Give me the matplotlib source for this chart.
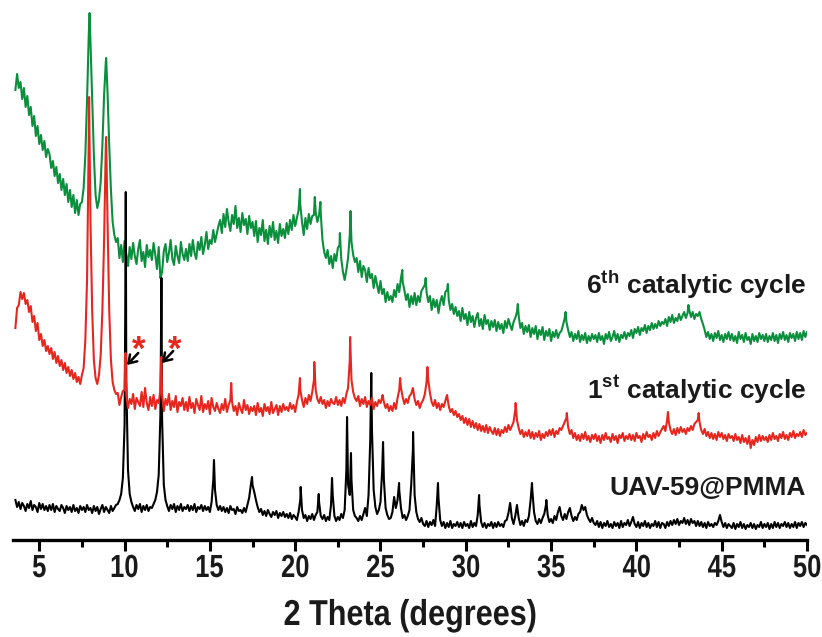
import numpy as np
import matplotlib
matplotlib.use('Agg')
import matplotlib.pyplot as plt
from matplotlib.textpath import TextPath
from matplotlib.patches import PathPatch
from matplotlib.font_manager import FontProperties
from matplotlib.transforms import Affine2D, IdentityTransform

# 2theta sampling (0.1 deg) and intensities,
# given as height above the axis line (arbitrary units, offsets included)
two_theta = np.round(np.arange(3.6, 50.001, 0.1), 2)

green_vals = [
    450, 466, 452, 458, 441, 452, 433, 444, 425, 433, 414, 424, 404, 414, 396, 405, 390, 399, 383, 391,
    386, 372, 379, 364, 373, 357, 366, 350, 361, 345, 356, 338, 350, 333, 345, 327, 340, 325, 336, 338,
    352, 385, 440, 505, 498, 440, 385, 345, 332, 340, 358, 395, 445, 478, 448, 395, 350, 318, 305, 298,
    302, 282, 295, 278, 299, 286, 274, 293, 281, 297, 284, 276, 291, 300, 279, 288, 273, 295, 283, 290,
    280, 297, 285, 271, 293, 262, 268, 289, 296, 278, 287, 300, 281, 275, 294, 284, 277, 298, 286, 280,
    291, 279, 296, 284, 300, 287, 281, 298, 290, 303, 286, 295, 308, 291, 300, 296, 310, 298, 306, 314,
    320, 307, 326, 313, 331, 318, 309, 325, 316, 334, 312, 322, 308, 327, 315, 321, 306, 324, 312, 318,
    304, 319, 298, 312, 305, 320, 299, 310, 296, 314, 303, 318, 300, 309, 297, 316, 304, 311, 302, 317,
    306, 320, 310, 325, 314, 322, 330, 335, 318, 305, 322, 311, 326, 316, 324, 325, 328, 318, 325, 326,
    300, 288, 282, 290, 276, 284, 272, 286, 279, 292, 295, 281, 268, 260, 270, 282, 305, 298, 285, 278,
    282, 268, 279, 263, 274, 270, 258, 272, 262, 266, 252, 264, 255, 247, 259, 246, 251, 238, 248, 240,
    244, 238, 250, 243, 256, 248, 262, 258, 250, 240, 246, 233, 244, 236, 247, 235, 244, 238, 249, 252,
    255, 248, 238, 244, 230, 241, 233, 240, 227, 238, 244, 235, 248, 250, 240, 230, 236, 226, 233, 224,
    229, 219, 232, 221, 226, 215, 228, 218, 224, 213, 222, 227, 214, 221, 211, 225, 216, 220, 210, 219,
    213, 220, 209, 218, 211, 216, 207, 219, 212, 221, 215, 210, 218, 222, 228, 224, 212, 217, 206, 214,
    208, 215, 203, 212, 206, 214, 201, 210, 205, 213, 200, 209, 204, 211, 199, 208, 203, 210, 202, 207,
    209, 215, 222, 218, 210, 203, 208, 199, 206, 201, 209, 198, 205, 200, 207, 197, 204, 199, 206, 201,
    205, 198, 207, 200, 204, 196, 206, 201, 208, 199, 203, 209, 200, 206, 198, 205, 202, 208, 201, 207,
    204, 210, 202, 211, 207, 213, 205, 212, 209, 215, 207, 214, 210, 217, 211, 216, 212, 219, 214, 218,
    216, 221, 214, 223, 218, 225, 217, 222, 219, 226, 220, 224, 228, 222, 227, 230, 223, 228, 221, 226,
    224, 228, 221, 216, 210, 203, 208, 201, 206, 199, 207, 202, 209, 200, 205, 198, 206, 201, 208, 200,
    206, 199, 204, 197, 208, 201, 205, 198, 207, 200, 203, 196, 206, 199, 204, 198, 207, 201, 205, 199,
    206, 198, 204, 200, 207, 199, 205, 197, 206, 201, 208, 200, 205, 198, 207, 202, 206, 199, 208, 201,
    207, 200, 209, 203, 208,
]
green_peaks = [(7.95, 527), (8.92, 482), (20.28, 351), (21.15, 343), (21.48, 338),
               (22.62, 307), (23.24, 329), (26.28, 270), (27.65, 262), (28.95, 256),
               (33.05, 236), (35.85, 228), (43.05, 235)]

red_vals = [
    212, 232, 235, 248, 241, 247, 236, 240, 228, 234, 218, 224, 209, 217, 200, 206, 194, 200, 189, 194,
    186, 192, 181, 188, 177, 184, 174, 180, 170, 177, 167, 173, 164, 170, 161, 167, 158, 163, 156, 165,
    172, 200, 260, 400, 320, 230, 180, 162, 156, 165, 185, 230, 300, 395, 320, 230, 180, 158, 150, 146,
    147, 135, 143, 149, 150, 145, 132, 141, 136, 146, 131, 142, 138, 134, 148, 133, 152, 137, 130, 143,
    134, 145, 131, 140, 137, 150, 145, 129, 141, 135, 146, 130, 139, 133, 144, 128, 138, 134, 142, 130,
    138, 129, 143, 132, 137, 127, 141, 135, 130, 144, 128, 136, 131, 139, 126, 142, 133, 129, 137, 131,
    127, 136, 130, 141, 128, 135, 140, 138, 129, 134, 125, 137, 131, 127, 140, 130, 135, 126, 133, 129,
    134, 125, 137, 128, 132, 124, 136, 129, 133, 126, 138, 127, 131, 135, 125, 134, 128, 136, 130, 133,
    129, 137, 131, 135, 128, 138, 145, 150, 140, 133, 142, 136, 145, 139, 148, 160, 150, 141, 137, 143,
    136, 140, 132, 139, 134, 141, 137, 136, 143, 135, 140, 134, 142, 137, 146, 152, 180, 160, 148, 142,
    139, 144, 134, 141, 136, 143, 133, 139, 135, 142, 131, 138, 134, 140, 137, 143, 138, 132, 136, 129,
    134, 129, 137, 131, 142, 150, 152, 143, 136, 141, 137, 144, 146, 152, 141, 135, 139, 132, 137, 140,
    146, 158, 160, 147, 138, 134, 140, 132, 137, 130, 136, 133, 139, 145, 134, 128, 131, 125, 129, 123,
    126, 120, 124, 117, 122, 115, 121, 113, 119, 112, 117, 110, 116, 109, 114, 108, 115, 107, 113, 109,
    106, 112, 105, 111, 104, 110, 107, 113, 108, 115, 110, 114, 118, 130, 120, 112, 106, 110, 103, 108,
    104, 110, 102, 108, 101, 107, 103, 109, 100, 106, 102, 108, 104, 110, 105, 111, 103, 109, 106, 112,
    110, 114, 118, 122, 113, 106, 110, 102, 107, 100, 105, 99, 106, 101, 108, 100, 104, 98, 105, 101,
    106, 99, 104, 97, 105, 100, 107, 101, 103, 98, 106, 100, 104, 97, 105, 102, 107, 99, 104, 101,
    106, 100, 105, 99, 107, 102, 104, 98, 106, 101, 108, 103, 105, 100, 107, 102, 109, 104, 108, 111,
    114, 109, 120, 118, 110, 106, 111, 105, 112, 107, 113, 108, 111, 106, 112, 109, 114, 110, 116, 118,
    120, 118, 110, 106, 111, 104, 108, 102, 107, 101, 106, 100, 108, 103, 107, 101, 105, 99, 106, 102,
    104, 99, 106, 100, 103, 97, 105, 98, 102, 96, 104, 92, 100, 95, 103, 98, 105, 99, 104, 100,
    103, 98, 105, 100, 107, 101, 104, 99, 106, 102, 108, 101, 105, 100, 107, 103, 109, 102, 106, 104,
    108, 103, 110, 105, 107,
]
red_peaks = [(7.92, 443), (8.92, 403), (10.05, 187), (12.15, 183), (16.25, 157),
             (20.28, 162), (21.12, 178), (23.22, 203), (25.12, 145), (26.15, 162),
             (27.75, 173), (32.92, 137), (35.92, 127), (41.85, 128), (43.65, 127)]

black_vals = [
    40, 33, 38, 31, 37, 34, 29, 36, 32, 39, 30, 35, 33, 28, 37, 31, 36, 30, 34, 29,
    35, 30, 36, 28, 34, 31, 29, 35, 32, 27, 34, 30, 33, 28, 35, 29, 32, 27, 34, 30,
    33, 28, 35, 30, 32, 27, 34, 29, 33, 26, 31, 35, 28, 33, 30, 27, 34, 29, 32, 35,
    36, 40, 46, 62, 115, 160, 70, 46, 38, 33, 29, 35, 31, 36, 28, 34, 30, 35, 29, 33,
    32, 36, 40, 48, 65, 125, 120, 55, 40, 34, 29, 35, 31, 36, 28, 34, 30, 36, 29, 33,
    31, 35, 29, 34, 30, 36, 28, 33, 31, 35, 29, 34, 30, 33, 28, 38, 60, 50, 35, 30,
    34, 29, 33, 28, 32, 27, 34, 30, 31, 26, 33, 29, 30, 27, 32, 28, 35, 42, 55, 55,
    48, 40, 33, 28, 31, 25, 29, 24, 30, 26, 23, 28, 25, 29, 22, 27, 24, 28, 23, 26,
    22, 27, 21, 25, 23, 20, 28, 40, 30, 22, 25, 19, 24, 21, 26, 20, 25, 28, 38, 24,
    21, 25, 19, 23, 20, 35, 45, 24, 19, 23, 20, 26, 22, 30, 70, 55, 45, 60, 30, 24,
    22, 19, 24, 20, 26, 32, 24, 45, 100, 110, 50, 33, 26, 30, 38, 70, 60, 32, 25, 21,
    22, 28, 43, 32, 40, 50, 32, 22, 25, 20, 24, 30, 55, 90, 45, 28, 21, 18, 22, 16,
    14, 19, 13, 18, 15, 20, 14, 35, 42, 20, 14, 18, 12, 17, 13, 19, 12, 16, 14, 18,
    13, 17, 12, 18, 14, 16, 12, 19, 13, 17, 14, 25, 35, 18, 13, 17, 12, 16, 14, 18,
    12, 17, 13, 18, 14, 16, 13, 19, 20, 27, 37, 22, 16, 24, 35, 22, 15, 19, 14, 20,
    18, 24, 40, 50, 28, 19, 16, 21, 17, 22, 26, 35, 25, 18, 21, 17, 24, 20, 28, 33,
    24, 20, 26, 21, 28, 32, 24, 19, 23, 20, 26, 28, 35, 30, 33, 25, 21, 18, 22, 17,
    15, 19, 13, 18, 12, 17, 14, 19, 13, 16, 12, 18, 14, 17, 12, 19, 13, 17, 15, 20,
    14, 18, 23, 16, 13, 18, 12, 17, 14, 19, 13, 17, 12, 16, 14, 19, 13, 18, 12, 17,
    16, 12, 18, 14, 19, 15, 20, 16, 21, 15, 19, 17, 22, 16, 20, 15, 21, 17, 19, 14,
    19, 14, 18, 13, 17, 12, 18, 14, 16, 13, 17, 15, 19, 25, 18, 13, 17, 12, 16, 14,
    12, 17, 11, 16, 13, 18, 12, 16, 11, 15, 13, 17, 12, 16, 11, 15, 13, 18, 12, 16,
    13, 17, 11, 16, 12, 18, 13, 17, 12, 16, 14, 18, 13, 17, 12, 16, 13, 18, 12, 17,
    14, 18, 13, 17, 15,
]
black_peaks = [(10.04, 230), (10.07, 348), (12.16, 262), (15.24, 80), (17.47, 63),
               (20.32, 53), (21.38, 46), (22.16, 62), (23.04, 123), (23.27, 87),
               (24.46, 167), (25.15, 98), (26.09, 57), (26.91, 108), (28.37, 57),
               (30.78, 45), (33.88, 57), (34.72, 40)]

labels = ['6$^{\\mathbf{th}}$ catalytic cycle', '1$^{\\mathbf{st}}$ catalytic cycle', 'UAV-59@PMMA']
label_y = [255, 150, 52]
colors = ['#0b8f3d', '#e5271e', '#000000']
tick_vals = [5, 10, 15, 20, 25, 30, 35, 40, 45, 50]


def merge(vals, peaks):
    n = min(len(vals), len(two_theta))
    x = np.concatenate([two_theta[:n], [p[0] for p in peaks]])
    y = np.concatenate([np.array(vals[:n], float), [p[1] for p in peaks]])
    order = np.argsort(x, kind='stable')
    return x[order], y[order]


plt.rcParams['font.family'] = ['Liberation Sans', 'DejaVu Sans']
plt.rcParams['mathtext.fontset'] = 'custom'
plt.rcParams['mathtext.bf'] = 'Liberation Sans:bold'
plt.rcParams['mathtext.rm'] = 'Liberation Sans:bold'

fig = plt.figure(figsize=(8.22, 6.37), dpi=100)
ax = fig.add_axes([13 / 822, 97 / 637, 794 / 822, 540 / 637])

for vals, peaks, c, z in [(green_vals, green_peaks, colors[0], 1),
                          (black_vals, black_peaks, colors[2], 2),
                          (red_vals, red_peaks, colors[1], 3)]:
    x, y = merge(vals, peaks)
    ax.plot(x, y, color=c, lw=1.5, zorder=z)

for txt, yy in zip(labels, label_y):
    ax.text(49.95, yy, txt, ha='right', va='center', fontsize=19,
            fontweight='bold', color='#1a1a1a')

# asterisks + arrows marking the extra reflections
for xa, xh, yh in [(10.85, 10.14, 175), (12.96, 12.19, 177)]:
    ax.text(xa, 190, '*', color=colors[1], fontsize=25, fontweight='bold',
            ha='center', va='center')
    ax.annotate('', xy=(xh, yh), xytext=(xh + 0.66, yh + 12),
                arrowprops=dict(arrowstyle='->,head_length=0.45,head_width=0.3',
                                color='black', lw=1.8, shrinkA=0, shrinkB=0,
                                mutation_scale=12))

ax.set_xlim(3.46, 50)
ax.set_ylim(0, 540)
for s in ['left', 'top', 'right']:
    ax.spines[s].set_visible(False)
ax.spines['bottom'].set_linewidth(2.4)
ax.set_yticks([])
ax.set_xticks(tick_vals)
ax.set_xticks(np.arange(7.5, 50, 5), minor=True)
ax.tick_params(axis='x', which='major', direction='out', length=8, width=2.2,
               labelbottom=False)
ax.tick_params(axis='x', which='minor', direction='out', length=5, width=2.2)

# condensed bold text (narrow font is not installed, so squeeze the glyph outlines)
bold = FontProperties(family='Liberation Sans', weight='bold')


def narrow_text(s, x_px, base_px, size_px, sx):
    tp = TextPath((0, 0), s, size=size_px, prop=bold)
    bb = tp.get_extents()
    tr = Affine2D().translate(-(bb.x0 + bb.x1) / 2, 0).scale(sx, 1).translate(x_px, base_px)
    fig.add_artist(PathPatch(tr.transform_path(tp), facecolor='#1a1a1a', lw=0,
                             transform=IdentityTransform()))


H = 637
for t in tick_vals:
    xp = ax.transData.transform((t, 0))[0]
    narrow_text(str(t), xp, H - 577, 32, 0.8)
narrow_text('2 Theta (degrees)', 410, H - 625, 36, 0.85)

fig.savefig('out.png', dpi=100)
